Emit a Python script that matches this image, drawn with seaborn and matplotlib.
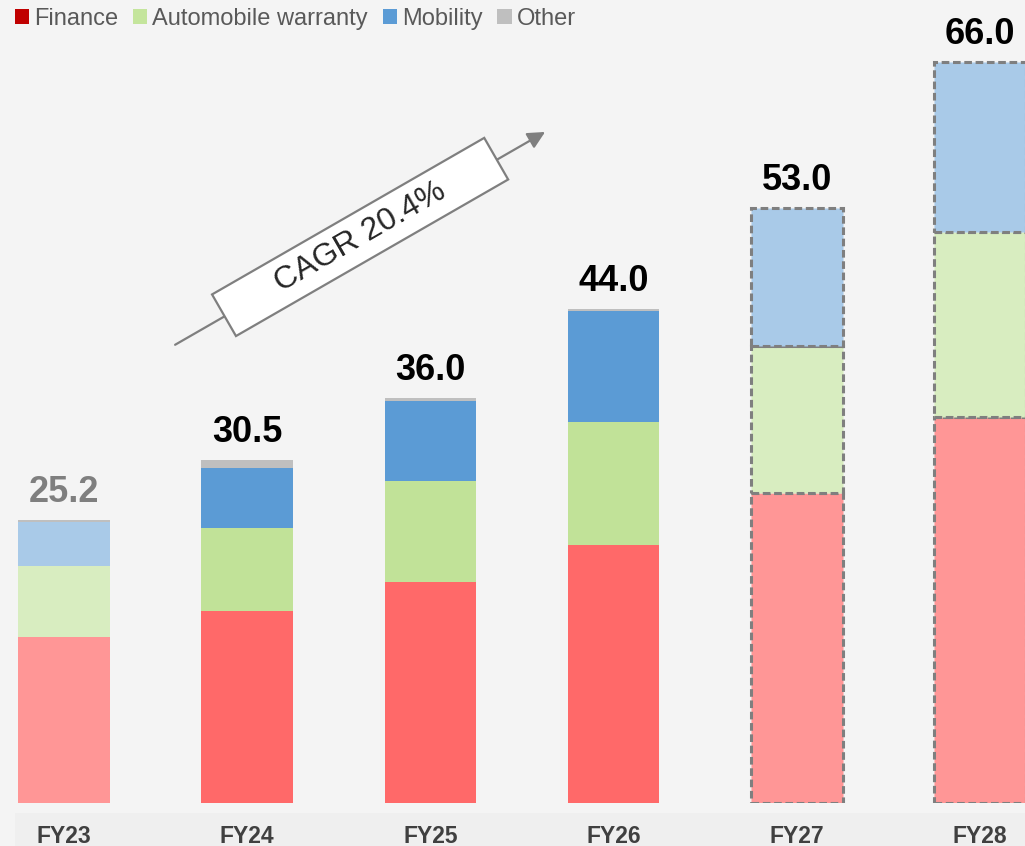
import numpy as np
import pandas as pd
import matplotlib
matplotlib.use("Agg")
import matplotlib.pyplot as plt
import seaborn as sns
from matplotlib.patches import Patch, Rectangle
from matplotlib.transforms import Affine2D

# ---------------- data ----------------
years = ["FY23", "FY24", "FY25", "FY26", "FY27", "FY28"]
finance = [14.8, 17.1, 19.7, 23.0, 27.6, 34.4]
warranty = [6.3, 7.4, 9.0, 10.9, 13.1, 16.4]
mobility = [3.9, 5.3, 7.1, 9.9, 12.3, 15.2]
other = [0.2, 0.7, 0.3, 0.2, 0.0, 0.0]
total_labels = ["25.2", "30.5", "36.0", "44.0", "53.0", "66.0"]
series_names = ["Finance", "Automobile warranty", "Mobility", "Other"]
cagr_label = "CAGR 20.4%"

# ---------------- styling ----------------
plt.rcParams["font.family"] = ["Liberation Sans", "DejaVu Sans"]
BG = "#F4F4F4"
bar_kind = ["light", "solid", "solid", "solid", "plan", "plan"]
colors_solid = ["#FF6969", "#C1E298", "#5B9BD5", "#BFBFBF"]
colors_light = ["#FF9696", "#D8EDC0", "#A9CAE8", "#BFBFBF"]
legend_colors = ["#C00000", "#C4E59C", "#5B9BD5", "#BFBFBF"]

W, H = 1025, 846
fig = plt.figure(figsize=(W / 100, H / 100), dpi=100)
fig.patch.set_facecolor(BG)
fig.add_artist(Rectangle((15 / W, 0), 1, 33 / H, transform=fig.transFigure,
                         facecolor="#EFEFEF", edgecolor="none", zorder=-1))

ax = fig.add_axes([0, 43 / H, 1, 803 / H])
ax.set_facecolor("none")

df = pd.DataFrame({"year": years, "Finance": finance,
                   "Automobile warranty": warranty,
                   "Mobility": mobility, "Other": other})

bottom = np.zeros(len(years))
for si, name in enumerate(series_names):
    n0 = len(ax.patches)
    sns.barplot(data=df, x="year", y=name, order=years, bottom=bottom,
                width=0.5, color=colors_solid[si], errorbar=None, ax=ax,
                linewidth=0, zorder=2)
    for i, p in enumerate(ax.patches[n0:]):
        kind = bar_kind[i]
        p.set_facecolor(colors_solid[si] if kind == "solid" else colors_light[si])
        p.set_linewidth(0)
        if kind == "plan" and df[name].iloc[i] > 0:
            p.set_edgecolor("#7F7F7F")
            p.set_linewidth(2.2)
            p.set_linestyle((0, (2.5, 1.2)))
    bottom = bottom + df[name].to_numpy()

ax.set_xlim(-0.35, 5.246)
ax.set_ylim(0, 71.5)
ax.set_xlabel("")
ax.set_ylabel("")
ax.set_yticks([])
for s in ax.spines.values():
    s.set_visible(False)
ax.tick_params(axis="x", length=0, pad=15.5)
for t in ax.get_xticklabels():
    t.set_fontfamily(["Liberation Sans Narrow", "Liberation Sans", "DejaVu Sans"])
    t.set_fontweight("bold")
    t.set_fontsize(16.5)
    t.set_color("#404040")

# totals
for i, lbl in enumerate(total_labels):
    ax.annotate(lbl, xy=(i, bottom[i]), xytext=(0, 13), textcoords="offset points",
                ha="center", va="baseline", fontsize=26, fontweight="bold",
                color="#7F7F7F" if bar_kind[i] == "light" else "black", zorder=5)

# CAGR arrow
start = (0.606, 40.8)
end = (2.626, 59.75)
ax.annotate("", xy=end, xytext=start,
            arrowprops=dict(arrowstyle="-|>", color="#7F7F7F", lw=1.6,
                            mutation_scale=26, shrinkA=0, shrinkB=0),
            zorder=4)
p0 = ax.transData.transform(start)
p1 = ax.transData.transform(end)
ang = np.degrees(np.arctan2(p1[1] - p0[1], p1[0] - p0[0]))
center = (1.616, 50.4)
cx, cy = ax.transData.transform(center)
L, Hh = 314, 48
box = Rectangle((cx - L / 2, cy - Hh / 2), L, Hh, facecolor="white",
                edgecolor="#7F7F7F", lw=1.6, zorder=5)
box.set_transform(Affine2D().rotate_deg_around(cx, cy, ang))
ax.add_patch(box)
ax.text(center[0], center[1], cagr_label, rotation=ang, rotation_mode="anchor",
        ha="center", va="center", fontsize=23, color="#262626", zorder=6)

# legend
handles = [Patch(facecolor=c, edgecolor="none") for c in legend_colors]
leg = fig.legend(handles, series_names, loc="upper left",
                 bbox_to_anchor=(0.010, 0.996), ncol=4, frameon=False,
                 fontsize=17.0, handlelength=0.6, handleheight=0.6,
                 handletextpad=0.22, columnspacing=0.62, borderpad=0.2,
                 borderaxespad=0)
for t in leg.get_texts():
    t.set_color("#595959")

fig.savefig("out.png", dpi=100, facecolor=BG)
